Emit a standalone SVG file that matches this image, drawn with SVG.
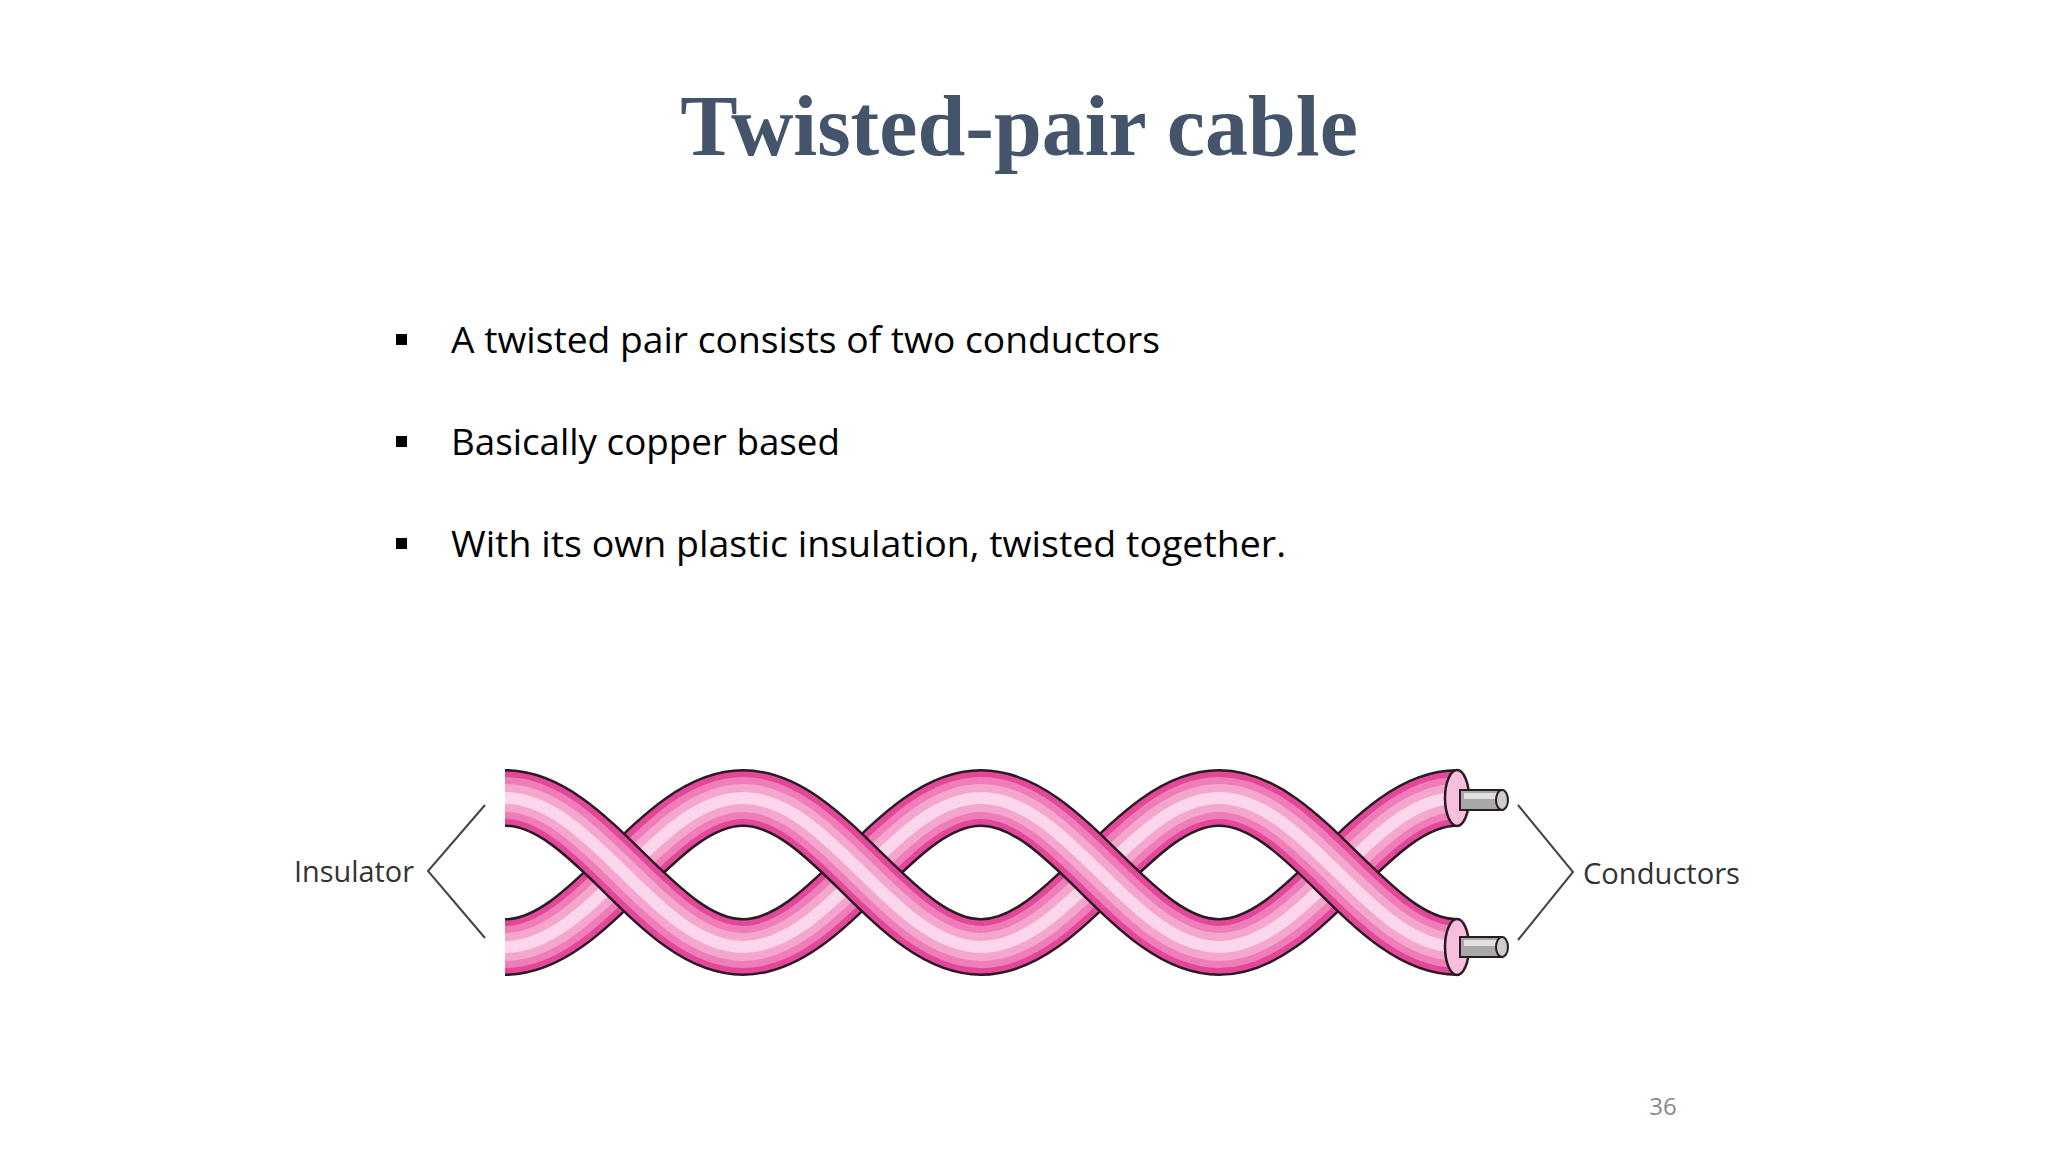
<svg xmlns="http://www.w3.org/2000/svg" width="2048" height="1152" viewBox="0 0 2048 1152">
<style>
.o{fill:none;stroke:#2a1a22;stroke-width:58}
.a{fill:none;stroke:#e2479a;stroke-width:53}
.b{fill:none;stroke:#ee7db8;stroke-width:42}
.b2{fill:none;stroke:#f5a6cf;stroke-width:28}
.c{fill:none;stroke:#fcd6ea;stroke-width:12}
.t{font-family:"Open Sans",sans-serif;font-size:36px;fill:#000}
.l{font-family:"Open Sans",sans-serif;font-size:30px;fill:#333}
.ln{fill:none;stroke:#444;stroke-width:2}
</style>
<defs>
<g id="up"><path d="M0,0 C86.7,0 151.3,-149 238,-149"/></g>
<g id="dn"><path d="M0,0 C86.7,0 151.3,149 238,149"/></g>
<g id="U"><use href="#up" x="505" y="947"/><use href="#up" x="743" y="947"/><use href="#up" x="981" y="947"/><use href="#up" x="1219" y="947"/></g>
<g id="D"><use href="#dn" x="505" y="798"/><use href="#dn" x="743" y="798"/><use href="#dn" x="981" y="798"/><use href="#dn" x="1219" y="798"/></g>
</defs>
<rect width="2048" height="1152" fill="#fff"/>
<g id="title"><text x="1019" y="155" text-anchor="middle" font-family="Liberation Serif,serif" font-weight="bold" font-size="86" fill="#44546a">Twisted-pair cable</text></g>
<g id="bullets">
<rect x="396" y="334" width="11" height="11" fill="#000"/>
<rect x="396" y="436" width="11" height="11" fill="#000"/>
<rect x="396" y="538" width="11" height="11" fill="#000"/>
<text class="t" x="451" y="353" textLength="709" lengthAdjust="spacingAndGlyphs">A twisted pair consists of two conductors</text>
<text class="t" x="451" y="455" textLength="389" lengthAdjust="spacingAndGlyphs">Basically copper based</text>
<text class="t" x="451" y="557" textLength="835" lengthAdjust="spacingAndGlyphs">With its own plastic insulation, twisted together.</text>
</g>
<g id="cable">
<g id="under">
<use href="#U" class="o"/><use href="#U" class="a"/><use href="#U" class="b"/><use href="#U" class="b2"/><use href="#U" class="c"/>
</g>
<g id="over">
<use href="#D" class="o"/><use href="#D" class="a"/><use href="#D" class="b"/><use href="#D" class="b2"/><use href="#D" class="c"/>
</g>
<g id="ends">
<ellipse cx="1457" cy="798" rx="12" ry="28" fill="#f8bfdc" stroke="#2a1a22" stroke-width="2.5"/>
<ellipse cx="1457" cy="947" rx="12" ry="28" fill="#f8bfdc" stroke="#2a1a22" stroke-width="2.5"/>
<rect x="1460" y="790" width="42" height="20" fill="#a8a8a8" stroke="#2a1a22" stroke-width="2"/>
<rect x="1464" y="793" width="36" height="6" fill="#e0e0e0"/>
<ellipse cx="1502" cy="800" rx="6" ry="10" fill="#ccc" stroke="#2a1a22" stroke-width="2"/>
<rect x="1460" y="937" width="42" height="20" fill="#a8a8a8" stroke="#2a1a22" stroke-width="2"/>
<rect x="1464" y="940" width="36" height="6" fill="#e0e0e0"/>
<ellipse cx="1502" cy="947" rx="6" ry="10" fill="#ccc" stroke="#2a1a22" stroke-width="2"/>
</g>
</g>
<g id="insulator"><path class="ln" d="M485,805 L428,871 L485,938"/><text class="l" x="294" y="882" textLength="120" lengthAdjust="spacingAndGlyphs">Insulator</text></g>
<g id="conductors"><path class="ln" d="M1518,805 L1573,872 L1518,940"/><text class="l" x="1583" y="884" textLength="157" lengthAdjust="spacingAndGlyphs">Conductors</text></g>
<g id="page"><text x="1663" y="1115" text-anchor="middle" font-family="Open Sans,sans-serif" font-size="24" fill="#888">36</text></g>
</svg>
